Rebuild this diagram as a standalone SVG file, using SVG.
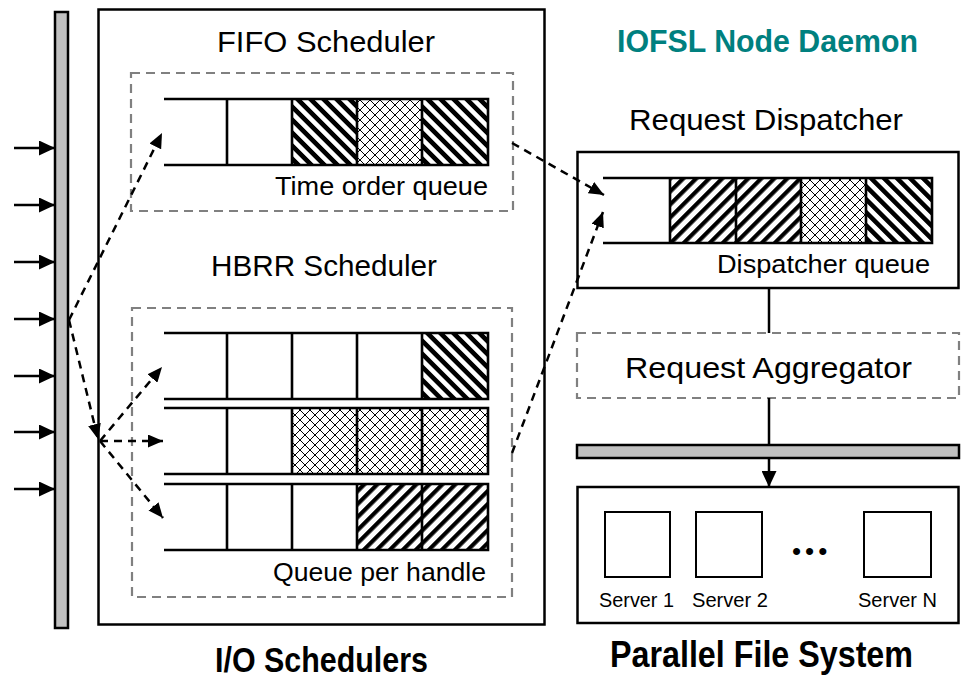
<svg xmlns="http://www.w3.org/2000/svg" width="961" height="679" viewBox="0 0 961 679">
  <style>
    .box { fill: #fff; stroke: #000; stroke-width: 2.5; }
    .dbox { fill: none; stroke: #808080; stroke-width: 2.2; stroke-dasharray: 9 6; }
    .bar { fill: #c0c0c0; stroke: #000; stroke-width: 2.5; }
    .q { fill: none; stroke: #000; stroke-width: 2.6; }
    .srv { fill: #fff; stroke: #000; stroke-width: 2; }
    .solid { fill: none; stroke: #000; stroke-width: 2.5; }
    .dash { fill: none; stroke: #000; stroke-width: 2.5; stroke-dasharray: 8 6; }
    .t { font-family: "Liberation Sans", Arial, sans-serif; fill: #000; }
    .b { font-family: "Liberation Sans", Arial, sans-serif; font-weight: bold; }
  </style>
  <defs>
    <!-- diagonal stripes running top-left to bottom-right -->
    <pattern id="back" patternUnits="userSpaceOnUse" width="9.2" height="9.2" patternTransform="rotate(-45)">
      <rect x="0" y="0" width="4.6" height="9.2" fill="#000"/>
    </pattern>
    <!-- diagonal stripes running bottom-left to top-right -->
    <pattern id="fwd" patternUnits="userSpaceOnUse" width="9.2" height="9.2" patternTransform="rotate(45)">
      <rect x="0" y="0" width="4.2" height="9.2" fill="#000"/>
    </pattern>
    <!-- thin diagonal cross-hatch -->
    <pattern id="cross" patternUnits="userSpaceOnUse" width="10" height="10">
      <rect width="10" height="10" fill="#fff"/>
      <path d="M0,0 L10,10 M0,10 L10,0" stroke="#000" stroke-width="1.2" shape-rendering="crispEdges"/>
    </pattern>
    <marker id="head" markerUnits="userSpaceOnUse" markerWidth="16" markerHeight="15" refX="16" refY="7.5" orient="auto">
      <path d="M0,0 L16,7.5 L0,15 z" fill="#000"/>
    </marker>
    <marker id="dhead" markerUnits="userSpaceOnUse" markerWidth="15" markerHeight="13" refX="15" refY="6.5" orient="auto">
      <path d="M0,0 L15,6.5 L0,13 z" fill="#000"/>
    </marker>
  </defs>

  <!-- incoming request bus -->
  <g id="input-bus">
    <rect class="bar" x="55" y="12" width="13" height="616"/>
  </g>

  <!-- I/O scheduler container -->
  <g id="io-schedulers">
    <rect class="box" x="98.5" y="9.5" width="446" height="615"/>
    <text class="b" x="215" y="672" font-size="35" textLength="213" lengthAdjust="spacingAndGlyphs">I/O Schedulers</text>
  </g>

  <!-- FIFO scheduler -->
  <g id="fifo-scheduler">
    <text class="t" x="217" y="52" font-size="30" textLength="218" lengthAdjust="spacingAndGlyphs">FIFO Scheduler</text>
    <rect class="dbox" x="131" y="73" width="382" height="138"/>
    <rect x="292" y="99" width="65" height="66" fill="url(#back)"/>
    <rect x="357" y="99" width="65" height="66" fill="url(#cross)"/>
    <rect x="422" y="99" width="66" height="66" fill="url(#back)"/>
    <path class="q" d="M164,99 H488 V165 H164 M227,99 V165 M292,99 V165 M357,99 V165 M422,99 V165"/>
    <text class="t" x="275" y="195" font-size="25" textLength="213" lengthAdjust="spacingAndGlyphs">Time order queue</text>
  </g>

  <!-- HBRR scheduler -->
  <g id="hbrr-scheduler">
    <text class="t" x="211" y="276" font-size="30" textLength="226" lengthAdjust="spacingAndGlyphs">HBRR Scheduler</text>
    <rect class="dbox" x="132" y="308" width="380" height="289"/>
    <rect x="422" y="333" width="66" height="66" fill="url(#back)"/>
    <rect x="292" y="408" width="196" height="66" fill="url(#cross)"/>
    <rect x="357" y="484" width="131" height="66" fill="url(#fwd)"/>
    <path class="q" d="M164,333 H488 V399 H164 M227,333 V399 M292,333 V399 M357,333 V399 M422,333 V399"/>
    <path class="q" d="M164,408 H488 V474 H164 M227,408 V474 M292,408 V474 M357,408 V474 M422,408 V474"/>
    <path class="q" d="M164,484 H488 V550 H164 M227,484 V550 M292,484 V550 M357,484 V550 M422,484 V550"/>
    <text class="t" x="273" y="581" font-size="25" textLength="213" lengthAdjust="spacingAndGlyphs">Queue per handle</text>
  </g>

  <!-- IOFSL daemon title -->
  <g id="daemon-title">
    <text class="b" x="617" y="52" font-size="31" fill="#00807f" textLength="301" lengthAdjust="spacingAndGlyphs">IOFSL Node Daemon</text>
  </g>

  <!-- request dispatcher -->
  <g id="request-dispatcher">
    <text class="t" x="629" y="130" font-size="30" textLength="274" lengthAdjust="spacingAndGlyphs">Request Dispatcher</text>
    <rect class="box" x="577.5" y="152" width="381" height="136"/>
    <rect x="670" y="178" width="131" height="65" fill="url(#fwd)"/>
    <rect x="801" y="178" width="65" height="65" fill="url(#cross)"/>
    <rect x="866" y="178" width="66" height="65" fill="url(#back)"/>
    <path class="q" d="M603,178 H932 V243 H603 M670,178 V243 M736,178 V243 M801,178 V243 M866,178 V243"/>
    <text class="t" x="717" y="273" font-size="25" textLength="213" lengthAdjust="spacingAndGlyphs">Dispatcher queue</text>
  </g>

  <!-- request aggregator -->
  <g id="request-aggregator">
    <rect class="dbox" x="577" y="333" width="382" height="65"/>
    <text class="t" x="625" y="378" font-size="30" textLength="287" lengthAdjust="spacingAndGlyphs">Request Aggregator</text>
  </g>

  <!-- storage network bus -->
  <g id="storage-bus">
    <rect class="bar" x="577" y="445" width="382" height="13"/>
  </g>

  <!-- parallel file system -->
  <g id="parallel-file-system">
    <rect class="box" x="577.5" y="487" width="381" height="136"/>
    <rect class="srv" x="605" y="512" width="65" height="65"/>
    <rect class="srv" x="696" y="512" width="66" height="65"/>
    <rect class="srv" x="864" y="512" width="67" height="65"/>
    <text class="t" x="792" y="560" font-size="26" letter-spacing="4">•••</text>
    <text class="t" x="599" y="607" font-size="19.5" textLength="75" lengthAdjust="spacingAndGlyphs">Server 1</text>
    <text class="t" x="692" y="607" font-size="19.5" textLength="76" lengthAdjust="spacingAndGlyphs">Server 2</text>
    <text class="t" x="858" y="607" font-size="19.5" textLength="79" lengthAdjust="spacingAndGlyphs">Server N</text>
    <text class="b" x="610" y="667" font-size="37" textLength="303" lengthAdjust="spacingAndGlyphs">Parallel File System</text>
  </g>

  <!-- connectors -->
  <g id="connectors">
    <line class="solid" x1="14" y1="148" x2="55" y2="148" marker-end="url(#head)"/>
    <line class="solid" x1="14" y1="205" x2="55" y2="205" marker-end="url(#head)"/>
    <line class="solid" x1="14" y1="262" x2="55" y2="262" marker-end="url(#head)"/>
    <line class="solid" x1="14" y1="319" x2="55" y2="319" marker-end="url(#head)"/>
    <line class="solid" x1="14" y1="376" x2="55" y2="376" marker-end="url(#head)"/>
    <line class="solid" x1="14" y1="432" x2="55" y2="432" marker-end="url(#head)"/>
    <line class="solid" x1="14" y1="489" x2="55" y2="489" marker-end="url(#head)"/>

    <line class="dash" x1="69" y1="320" x2="162" y2="133" marker-end="url(#dhead)"/>
    <line class="dash" x1="69" y1="320" x2="98" y2="439" marker-end="url(#dhead)"/>
    <line class="dash" x1="100" y1="441" x2="162" y2="367" marker-end="url(#dhead)"/>
    <line class="dash" x1="100" y1="441" x2="163" y2="441" marker-end="url(#dhead)"/>
    <line class="dash" x1="100" y1="441" x2="163" y2="518" marker-end="url(#dhead)"/>

    <line class="dash" x1="512" y1="143" x2="604" y2="195" marker-end="url(#dhead)"/>
    <line class="dash" x1="512" y1="453" x2="603" y2="212" marker-end="url(#dhead)"/>

    <line class="solid" x1="769" y1="288" x2="769" y2="333"/>
    <line class="solid" x1="769" y1="398" x2="769" y2="445"/>
    <line class="solid" x1="769" y1="458" x2="769" y2="487" marker-end="url(#head)"/>
  </g>
</svg>
